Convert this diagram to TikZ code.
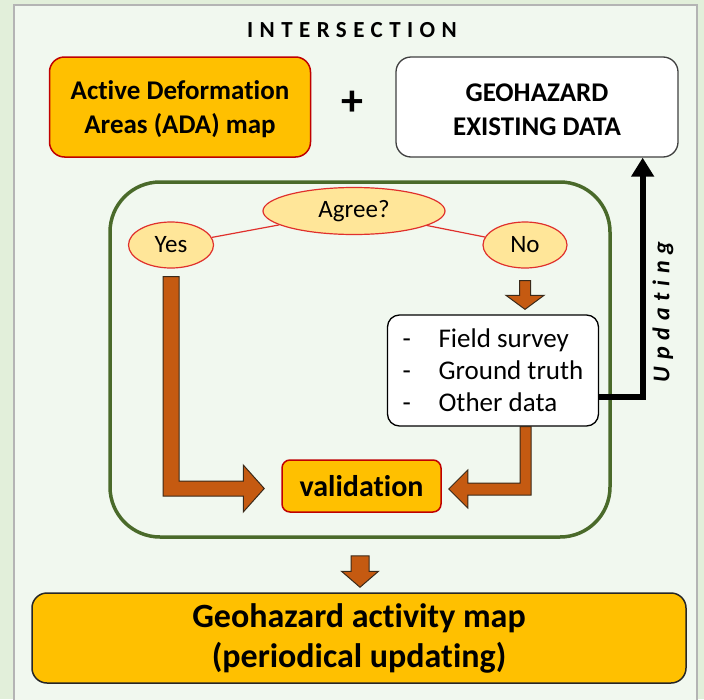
\documentclass[tikz,border=0pt]{standalone}
\usepackage{fontspec}
\setmainfont[Ligatures=NoCommon]{Carlito}
\newfontfamily\spacedfont[LetterSpace=28,Ligatures=NoCommon]{Carlito}
\usetikzlibrary{calc,shapes.geometric,arrows.meta}

\definecolor{pagebg}{HTML}{E2EFDA}
\definecolor{panelbg}{HTML}{F1F8EF}
\definecolor{panelline}{HTML}{B4B4B4}
\definecolor{gold}{HTML}{FFC000}
\definecolor{darkred}{HTML}{C00000}
\definecolor{paleyellow}{HTML}{FFE699}
\definecolor{ellline}{HTML}{E0302C}
\definecolor{loopgreen}{HTML}{4A6A2A}
\definecolor{rust}{HTML}{C55A11}
\definecolor{rustline}{HTML}{3A2A1A}
\definecolor{boxgray}{HTML}{404040}

% font size with baseline skip
\newcommand{\fsz}[2]{\fontsize{#1}{#2}\selectfont}

\tikzset{
  goldbox/.style={draw=darkred, line width=1.5pt, fill=gold, rounded corners=15pt,
    align=center, inner sep=0pt},
  whitebox/.style={draw=boxgray, line width=1.3pt, fill=white, rounded corners=15pt,
    align=center, inner sep=0pt},
  bubble/.style={ellipse, draw=ellline, line width=1.2pt, fill=paleyellow, inner sep=0pt,
    font=\fsz{25}{30}},
  blockarrow/.style={fill=rust, draw=rustline, line width=1pt, line join=miter},
  branch/.style={draw=ellline, line width=1.2pt},
  updarrow/.style={line width=6pt, -{Triangle[width=22pt,length=19pt]}}
}

\begin{document}
\begin{tikzpicture}[x=1pt,y=-1pt]
  \useasboundingbox (0,0) rectangle (704,699);
  \fill[pagebg] (0,0) rectangle (704,699);
  \draw[panelline, fill=panelbg, line width=1.5pt] (14,5) rectangle (697,712);

  % heading row
  \node[font=\spacedfont\bfseries\fsz{23}{27}] (title) at (352,30) {INTERSECTION};
  \node[goldbox, minimum width=261pt, minimum height=100pt,
        font=\bfseries\fsz{27}{34}] (ada) at (180,107)
    {\strut Active Deformation\\Areas (ADA) map};
  \node[font=\bfseries\fsz{44}{48}] (plus) at (352,103) {+};
  \node[whitebox, minimum width=282pt, minimum height=100pt,
        font=\bfseries\fsz{27}{34}] (geo) at (537,107)
    {\strut GEOHAZARD\\EXISTING DATA};

  % validation loop
  \node[draw=loopgreen, line width=3.5pt, rounded corners=50pt,
        minimum width=500pt, minimum height=355pt] (loop) at (360,359.5) {};
  \node[bubble, minimum width=182pt, minimum height=47pt] (agree) at (354,211) {Agree?};
  \node[bubble, minimum width=85pt, minimum height=46pt] (yes) at (171,245) {Yes};
  \node[bubble, minimum width=84pt, minimum height=46pt] (no) at (525,245) {No};
  \draw[branch] (yes) -- (agree);
  \draw[branch] (agree) -- (no);

  \node[whitebox, draw=black, rounded corners=12pt, minimum width=211pt,
        minimum height=111pt, align=left, font=\fsz{27}{32}] (field) at (493,370.5)
    {\makebox[36pt][l]{-}Field survey\\
     \makebox[36pt][l]{-}Ground truth\\
     \makebox[36pt][l]{-}Other data};
  \node[goldbox, rounded corners=8pt, minimum width=159pt, minimum height=52pt,
        font=\bfseries\fsz{30}{34}] (val) at (361.5,486) {validation};

  % result
  \node[goldbox, draw=black!85, minimum width=654pt, minimum height=90pt,
        font=\bfseries\fsz{34}{40}] (result) at (359,638)
    {Geohazard activity map\\(periodical updating)};

  % "No" branch: down to the field checks
  \coordinate (nT) at ($(no.south)+(0,12)$);
  \coordinate (nE) at ($(no.south |- field.north)+(0,-5)$);
  \filldraw[blockarrow] ($(nT)+(-5.5,0)$) -- ($(nT)+(5.5,0)$) -- ($(nE)+(5.5,-14)$)
    -- ($(nE)+(19,-14)$) -- (nE) -- ($(nE)+(-19,-14)$) -- ($(nE)+(-5.5,-14)$) -- cycle;

  % "Yes" branch: straight to validation
  \coordinate (yT) at ($(yes.south)+(0,8)$);
  \coordinate (yE) at ($(val.west)+(-17,2.5)$);
  \filldraw[blockarrow] ($(yT)+(-8,0)$) -- ($(yT)+(8,0)$) -- ($(yT |- yE)+(8,-7.5)$)
    -- ($(yE)+(-21,-7.5)$) -- ($(yE)+(-21,-23.5)$) -- (yE) -- ($(yE)+(-21,23.5)$)
    -- ($(yE)+(-21,7.5)$) -- ($(yT |- yE)+(-8,7.5)$) -- cycle;

  % field checks to validation
  \coordinate (fT) at ($(no.south |- field.south)+(0.5,0)$);
  \coordinate (fE) at ($(val.east)+(7,3)$);
  \filldraw[blockarrow] ($(fT)+(-5.5,0)$) -- ($(fT)+(5.5,0)$) -- ($(fT |- fE)+(5.5,6)$)
    -- ($(fE)+(19,6)$) -- ($(fE)+(19,19)$) -- (fE) -- ($(fE)+(19,-19)$)
    -- ($(fE)+(19,-6)$) -- ($(fT |- fE)+(-5.5,-6)$) -- cycle;

  % loop to result
  \coordinate (bT) at ($(loop.south)+(0,17)$);
  \coordinate (bE) at ($(loop.south |- result.north)+(0,-5)$);
  \filldraw[blockarrow] ($(bT)+(-9,0)$) -- ($(bT)+(9,0)$) -- ($(bE)+(9,-16)$)
    -- ($(bE)+(18.5,-16)$) -- (bE) -- ($(bE)+(-18.5,-16)$) -- ($(bE)+(-9,-16)$) -- cycle;

  % updating feedback
  \draw[updarrow] ($(field.east)+(0,26.5)$) -| ($(geo.south east)+(-36,0)$);
  \node[rotate=90, font=\spacedfont\bfseries\itshape\fsz{24}{28}] (upd) at (663,312)
    {Updating};
\end{tikzpicture}
\end{document}
